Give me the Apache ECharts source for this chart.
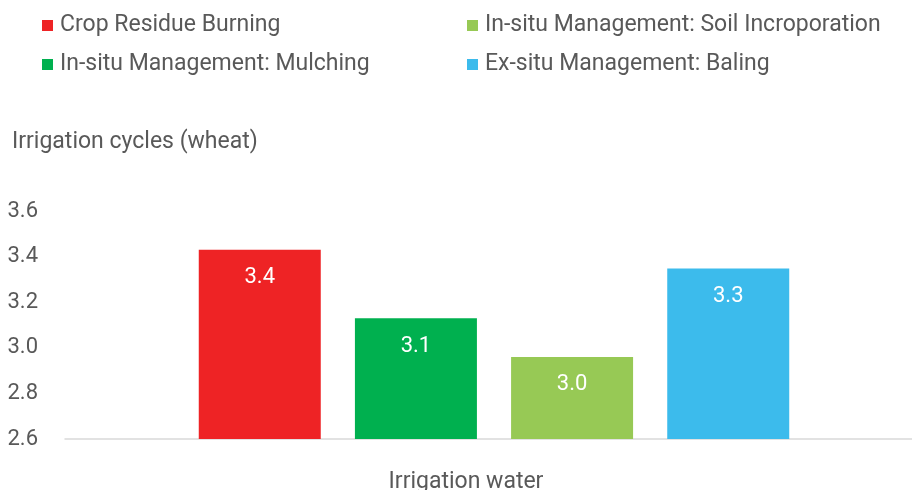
<!DOCTYPE html>
<html>
<head>
<meta charset="utf-8">
<script src="https://cdn.jsdelivr.net/npm/echarts@6/dist/echarts.min.js"></script>
<style>
  html, body { margin: 0; padding: 0; background: #fff; }
  #main { width: 912px; height: 490px; }
</style>
</head>
<body>
<div id="main"></div>
<script>
var categories = ['Irrigation water']
var seriesNames = [
  'Crop Residue Burning',
  'In-situ Management: Mulching',
  'In-situ Management: Soil Incroporation',
  'Ex-situ Management: Baling'
]
var seriesValues = [3.43, 3.13, 2.96, 3.348]
var seriesColors = ['#EE2325', '#00B04F', '#97C955', '#3CBBEC']
var yTicks = [2.6, 2.8, 3.0, 3.2, 3.4, 3.6]

var textColor = '#595959'
var fontFamily = 'Roboto, "Noto Sans", sans-serif'

const myCharts = echarts.init(document.getElementById('main'))

var series = seriesNames.map(function (name, i) {
  return {
    name: name,
    type: 'bar',
    barWidth: 122,
    barGap: '28%',
    itemStyle: { color: seriesColors[i] },
    label: {
      show: true,
      position: 'insideTop',
      distance: 17,
      color: '#fff',
      fontSize: 22,
      fontFamily: fontFamily,
      formatter: function (p) { return p.value.toFixed(1) }
    },
    data: [seriesValues[i]]
  }
})

var legendCommon = {
  orient: 'vertical',
  top: 14,
  padding: 0,
  itemWidth: 11,
  itemHeight: 11,
  itemGap: 16,
  icon: 'rect',
  textStyle: { color: textColor, fontSize: 23, fontFamily: fontFamily, padding: [0, 0, 0, 2] }
}

const option = {
  animation: false,
  title: {
    text: 'Irrigation cycles (wheat)',
    left: 12,
    top: 131,
    padding: 0,
    textStyle: { color: textColor, fontSize: 23, fontWeight: 'normal', fontFamily: fontFamily }
  },
  legend: [
    Object.assign({}, legendCommon, { left: 42, data: [seriesNames[0], seriesNames[1]] }),
    Object.assign({}, legendCommon, { left: 467, data: [seriesNames[2], seriesNames[3]] })
  ],
  grid: { left: 65, width: 858, top: 211, bottom: 51, outerBoundsMode: 'none' },
  xAxis: {
    type: 'category',
    data: categories,
    axisLine: { lineStyle: { color: '#d9d9d9', width: 1.5 } },
    axisTick: { show: false },
    axisLabel: {
      color: textColor,
      fontSize: 23,
      fontFamily: fontFamily,
      margin: 32,
      padding: [0, 56, 0, 0]
    }
  },
  yAxis: {
    type: 'value',
    min: yTicks[0],
    max: yTicks[yTicks.length - 1],
    interval: 0.2,
    axisLine: { show: false },
    axisTick: { show: false },
    splitLine: { show: false },
    axisLabel: {
      color: textColor,
      fontSize: 22,
      fontFamily: fontFamily,
      margin: 27,
      formatter: function (v) { return v.toFixed(1) }
    }
  },
  series: series
}
myCharts.setOption(option)
</script>
</body>
</html>
